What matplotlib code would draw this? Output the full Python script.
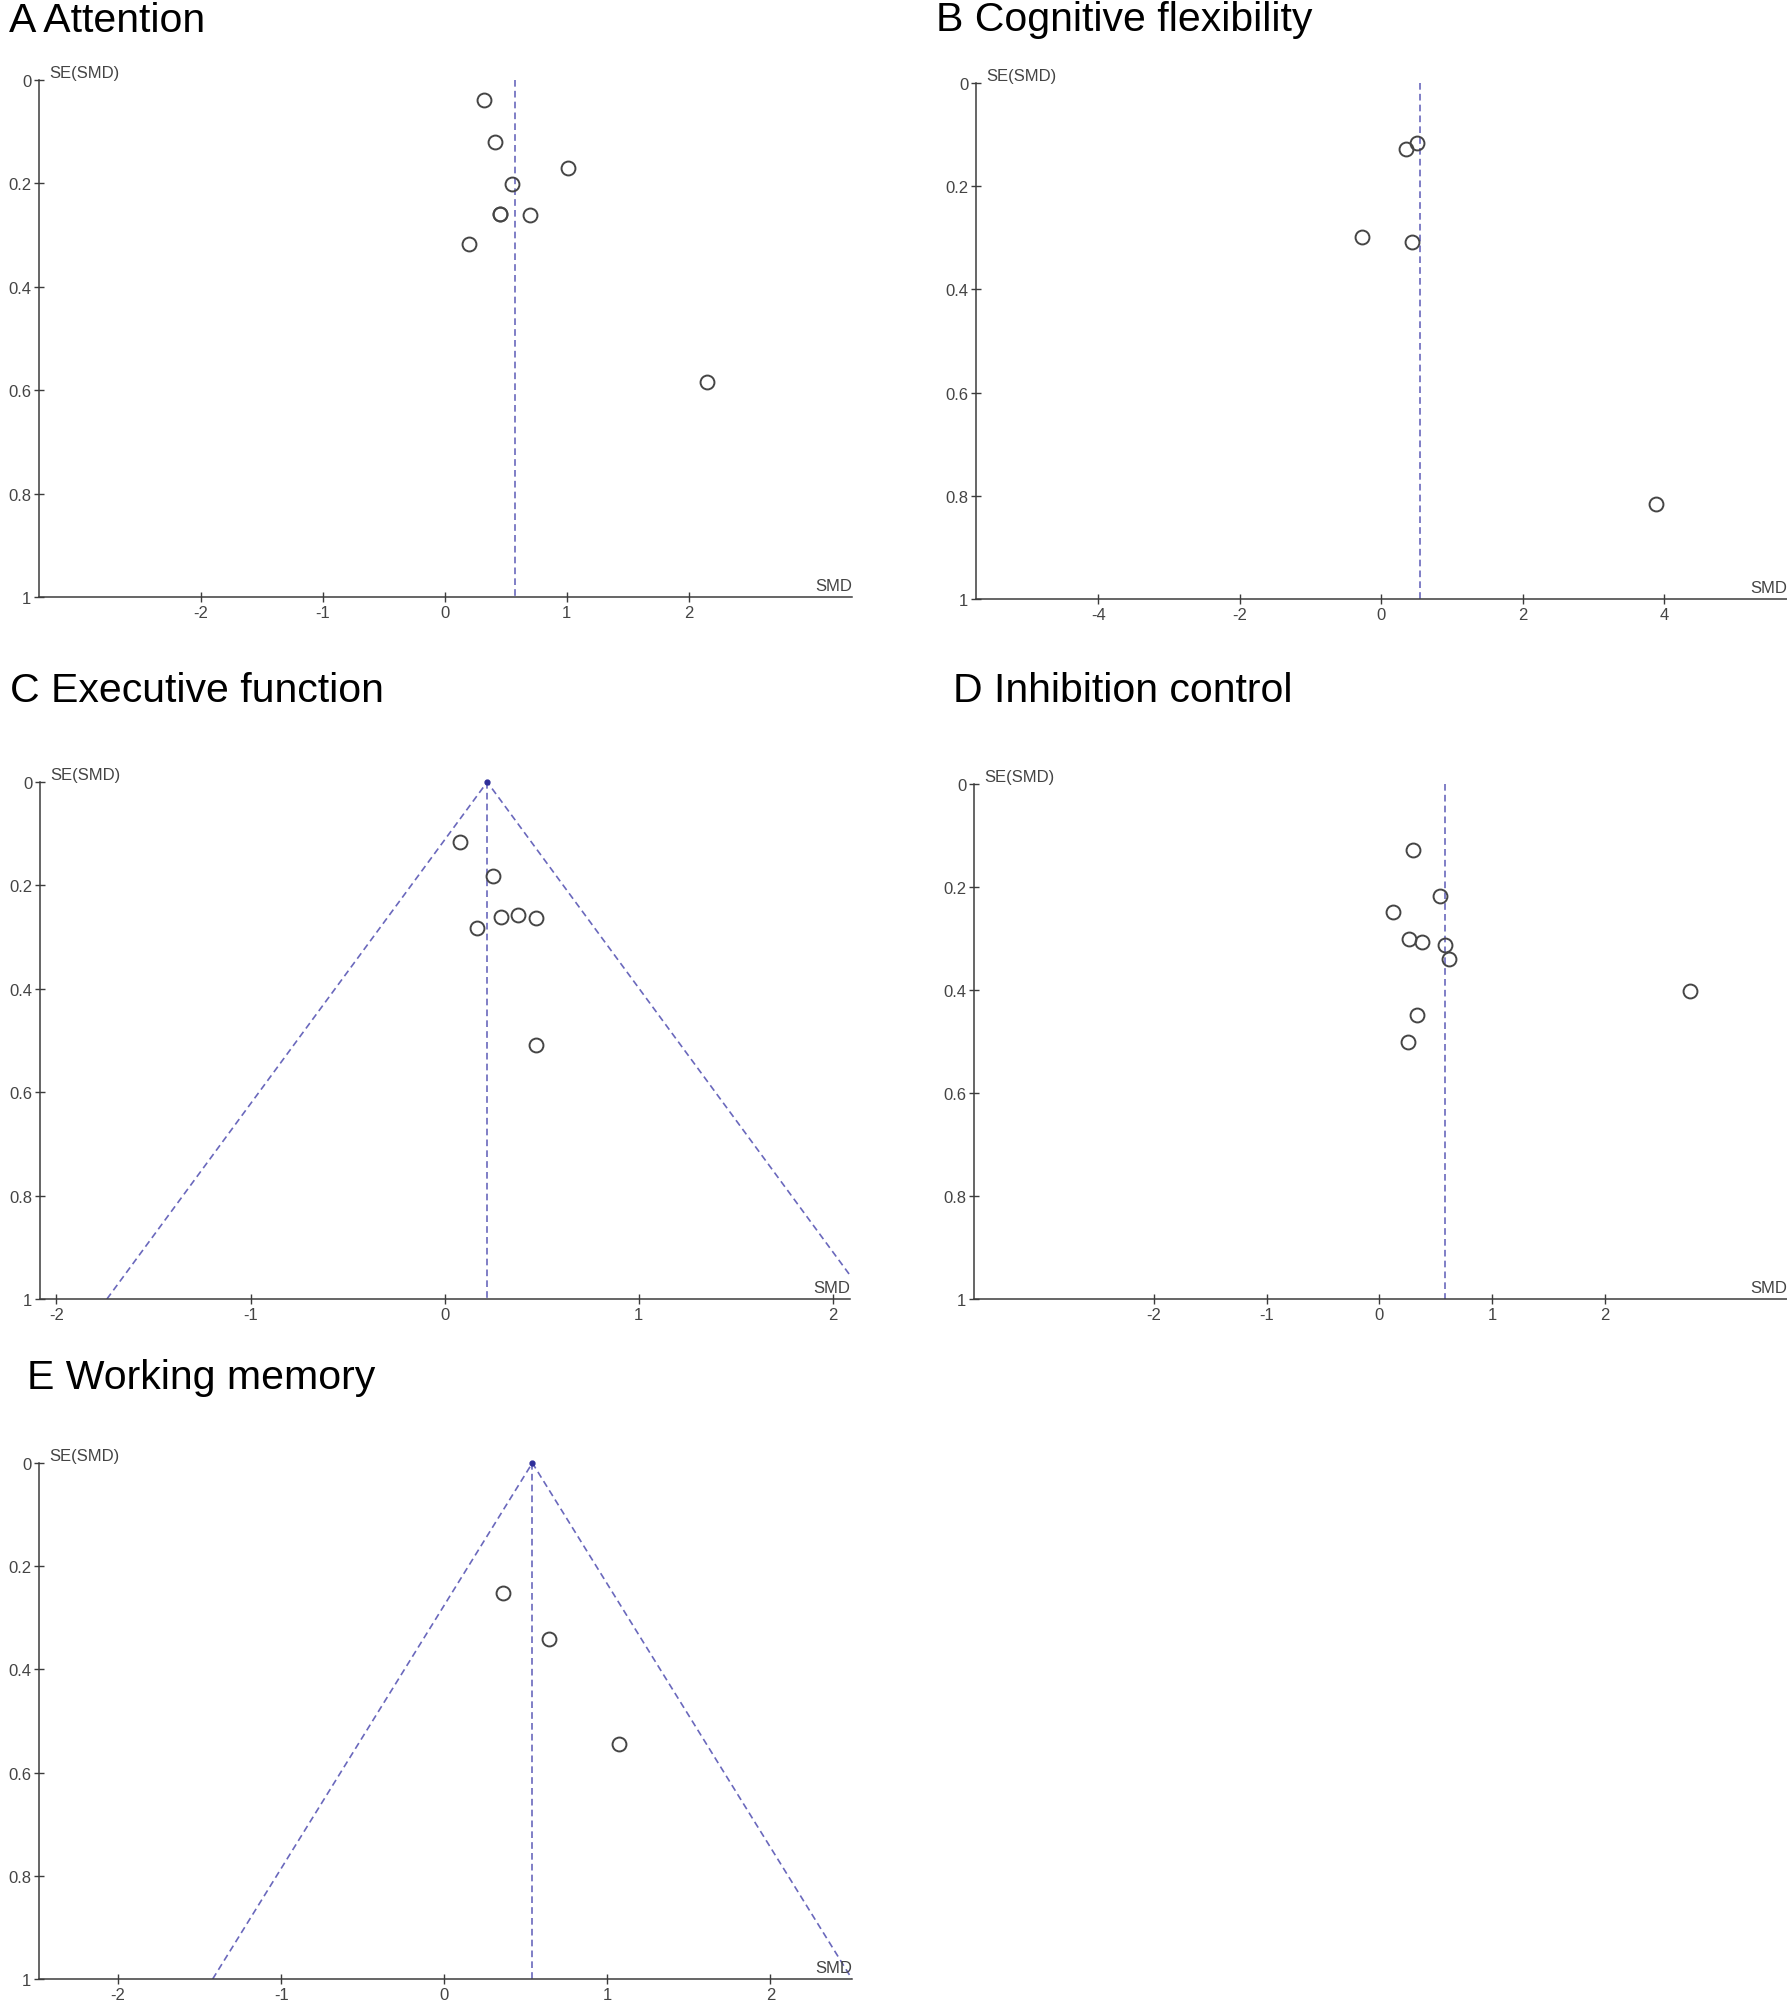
import matplotlib
matplotlib.use("Agg")
import matplotlib.pyplot as plt

plt.rcParams['font.family'] = ['Liberation Sans', 'DejaVu Sans']

W, H = 1787, 2008

# panel data (SMD, SE(SMD))
titles = ["A Attention", "B Cognitive flexibility", "C Executive function",
          "D Inhibition control", "E Working memory"]

smd_a = [0.32, 0.41, 1.01, 0.55, 0.45, 0.45, 0.70, 0.20, 2.15]
se_a = [0.039, 0.119, 0.170, 0.202, 0.259, 0.259, 0.261, 0.318, 0.584]

smd_b = [0.35, 0.51, -0.27, 0.43, 3.89]
se_b = [0.127, 0.116, 0.299, 0.308, 0.815]

smd_c = [0.08, 0.25, 0.29, 0.38, 0.47, 0.17, 0.47]
se_c = [0.117, 0.182, 0.262, 0.258, 0.263, 0.283, 0.508]

smd_d = [0.30, 0.54, 0.12, 0.26, 0.38, 0.58, 0.62, 2.76, 0.33, 0.25]
se_d = [0.129, 0.218, 0.249, 0.300, 0.306, 0.312, 0.340, 0.401, 0.449, 0.500]

smd_e = [0.36, 0.64, 1.07]
se_e = [0.251, 0.341, 0.544]

pooled = [0.575, 0.547, 0.22, 0.58, 0.54]
funnel = [False, False, True, False, True]

xlims = [(-3.33, 3.34), (-5.73, 5.74), (-2.085, 2.09), (-3.60, 3.62), (-2.485, 2.50)]
xticks = [[-2, -1, 0, 1, 2], [-4, -2, 0, 2, 4], [-2, -1, 0, 1, 2],
          [-2, -1, 0, 1, 2], [-2, -1, 0, 1, 2]]
yticks = [0, 0.2, 0.4, 0.6, 0.8, 1]
ytick_labels = ["0", "0.2", "0.4", "0.6", "0.8", "1"]

# axes boxes in pixels: left, right, top, bottom
boxes = [(39, 852, 81, 598), (976, 1787, 84, 600), (40, 850, 783, 1300),
         (974, 1787, 785, 1300), (39, 852, 1464, 1980)]
# title anchors in pixels: x, baseline
title_pos = [(9, 32), (936, 31), (10, 702), (953, 702), (27, 1389)]

data = [(smd_a, se_a), (smd_b, se_b), (smd_c, se_c), (smd_d, se_d), (smd_e, se_e)]

axis_col = '#3c3c3c'
dash_col = '#6a68bc'

fig = plt.figure(figsize=(W / 100, H / 100), dpi=100)

for i in range(5):
    l, r, t, b = boxes[i]
    ax = fig.add_axes([l / W, 1 - b / H, (r - l) / W, (b - t) / H])
    ax.set_xlim(*xlims[i])
    ax.set_ylim(1, 0)
    for s in ['top', 'right']:
        ax.spines[s].set_visible(False)
    for s in ['left', 'bottom']:
        ax.spines[s].set_color(axis_col)
        ax.spines[s].set_linewidth(1.1)
    ax.set_xticks(xticks[i])
    ax.set_xticklabels([str(v) for v in xticks[i]])
    ax.set_yticks(yticks)
    ax.set_yticklabels(ytick_labels)
    ax.tick_params(direction='inout', length=7, width=1.0, color=axis_col,
                   labelsize=12, labelcolor='#444444', pad=2)

    m = pooled[i]
    ax.plot([m, m], [0, 1], color=dash_col, lw=1.2, dashes=(4, 2.5), clip_on=False)
    if funnel[i]:
        ax.plot([m - 1.96, m, m + 1.96], [1, 0, 1], color=dash_col, lw=1.2,
                dashes=(4, 2.5))
        ax.plot([m], [0], marker='o', ms=3.5, color='#2e2e9a', clip_on=False)

    xs, ys = data[i]
    ax.plot(xs, ys, linestyle='none', marker='o', ms=10, mfc='none',
            mec='#454545', mew=1.4)

    ax.text(10 / (r - l), 1.0, "SE(SMD)", transform=ax.transAxes, fontsize=12,
            color='#444444', ha='left', va='bottom')
    ax.text(1.0, 0.008, "SMD", transform=ax.transAxes, fontsize=12,
            color='#444444', ha='right', va='bottom')

    tx, ty = title_pos[i]
    fig.text(tx / W, 1 - ty / H, titles[i], fontsize=29.5, color='black',
             ha='left', va='baseline')

fig.savefig("out.png", dpi=100)
